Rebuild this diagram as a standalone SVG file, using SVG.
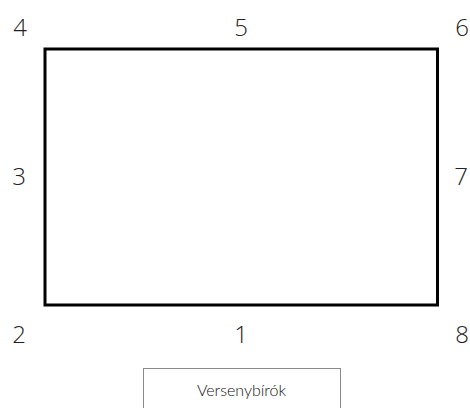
<svg xmlns="http://www.w3.org/2000/svg" width="470" height="408" viewBox="0 0 470 408">
<style>
.num{font-family:"Open Sans","Liberation Sans",sans-serif;font-weight:300;font-size:24px;fill:#222;text-anchor:middle}
.lbl{font-family:Lato,"Open Sans",sans-serif;font-weight:300;font-size:16px;fill:#111;text-anchor:middle}
</style>
<rect width="470" height="408" fill="#fff"/>
<g id="field"><rect x="45" y="49" width="392.5" height="256" fill="none" stroke="#000" stroke-width="3"/></g>
<g id="labels">
<text class="num" x="20" y="36">4</text>
<text class="num" x="241" y="36">5</text>
<text class="num" x="462" y="36">6</text>
<text class="num" x="19" y="185">3</text>
<text class="num" x="461" y="185">7</text>
<text class="num" x="19" y="343">2</text>
<text class="num" x="241" y="343">1</text>
<text class="num" x="462" y="343">8</text>
</g>
<g id="judges"><rect x="143.5" y="368.5" width="197" height="45" fill="#fff" stroke="#8a8a8a" stroke-width="1"/>
<text class="lbl" x="241.5" y="396">Versenybírók</text></g>
<g id="connectors"/>
</svg>
